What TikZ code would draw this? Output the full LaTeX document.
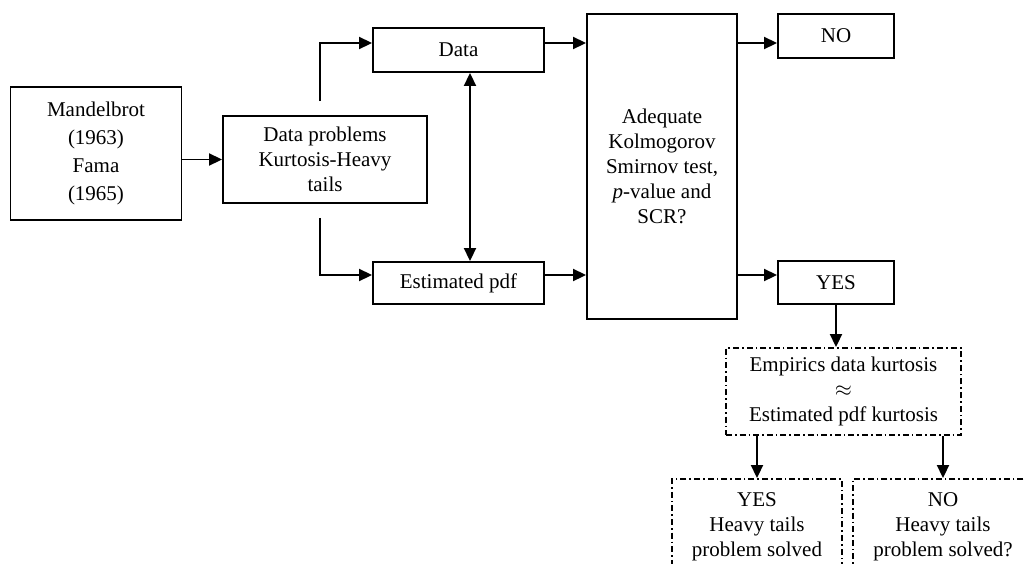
\documentclass[tikz,border=0pt]{standalone}
\usepackage{fontspec}
\setmainfont{Liberation Serif}
\usetikzlibrary{arrows.meta}
\tikzset{>={Triangle[width=6pt,length=6.5pt]}}
\tikzset{box/.style={draw, align=center, inner sep=1pt,
  font=\fontsize{10.5}{12.5}\selectfont}}
\tikzset{dashbox/.style={box, dash pattern=on 3pt off 1.5pt on 0.8pt off 1.5pt}}

\begin{document}
\begin{tikzpicture}[x=0.5pt, y=-0.5pt, line width=0.95pt]
\useasboundingbox (0,0) rectangle (1024,563);

\coordinate (top) at (0,43);
\coordinate (bot) at (0,275);
\coordinate (split) at (320,0);
\coordinate (link) at (470,0);

\node[box, minimum width=85.5pt, minimum height=66.5pt,
  font=\fontsize{10.5}{14}\selectfont] (mandel) at (96,153.5)
  {Mandelbrot\\(1963)\\Fama\\(1965)};
\node[box, minimum width=102pt, minimum height=43.5pt] (problems) at (325,159.5)
  {Data problems\\Kurtosis-Heavy\\tails};

\node[box, minimum width=85.5pt, minimum height=22pt] (data) at (458.5,50) {Data};
\node[box, minimum width=85.5pt, minimum height=21pt] (estpdf) at (458.5,283) {Estimated pdf};

\node[box, minimum width=75pt, minimum height=152.5pt] (ks) at (662,166.5)
  {Adequate\\Kolmogorov\\Smirnov test,\\\textit{p}-value and\\SCR?};

\node[box, minimum width=58pt, minimum height=22pt] (no) at (836,36) {NO};
\node[box, minimum width=58pt, minimum height=21.5pt] (yes) at (836,282.5) {YES};

\node[dashbox, minimum width=117.5pt, minimum height=43.5pt] (emp) at (843.5,391.5)
  {Empirics data kurtosis\\$\approx$\\Estimated pdf kurtosis};
\node[dashbox, minimum width=85pt, minimum height=48pt] (solved) at (757,527)
  {YES\\Heavy tails\\problem solved};
\node[dashbox, minimum width=90pt, minimum height=48pt] (unsolved) at (943,527)
  {NO\\Heavy tails\\problem solved?};

\draw[->] (mandel.east |- problems) -- (problems.west);
\draw[->, shorten <=7pt] (problems.north -| split) |- (data.west |- top);
\draw[->, shorten <=7pt] (problems.south -| split) |- (estpdf.west |- bot);
\draw[<->] (data.south -| link) -- (estpdf.north -| link);

\draw[->] (data.east |- top) -- (ks.west |- top);
\draw[->] (estpdf.east |- bot) -- (ks.west |- bot);
\draw[->] (ks.east |- top) -- (no.west |- top);
\draw[->] (ks.east |- bot) -- (yes.west |- bot);

\draw[->] (yes.south) -- (emp.north -| yes.south);
\draw[->] (emp.south -| solved) -- (solved.north);
\draw[->] (emp.south -| unsolved) -- (unsolved.north);
\end{tikzpicture}
\end{document}
